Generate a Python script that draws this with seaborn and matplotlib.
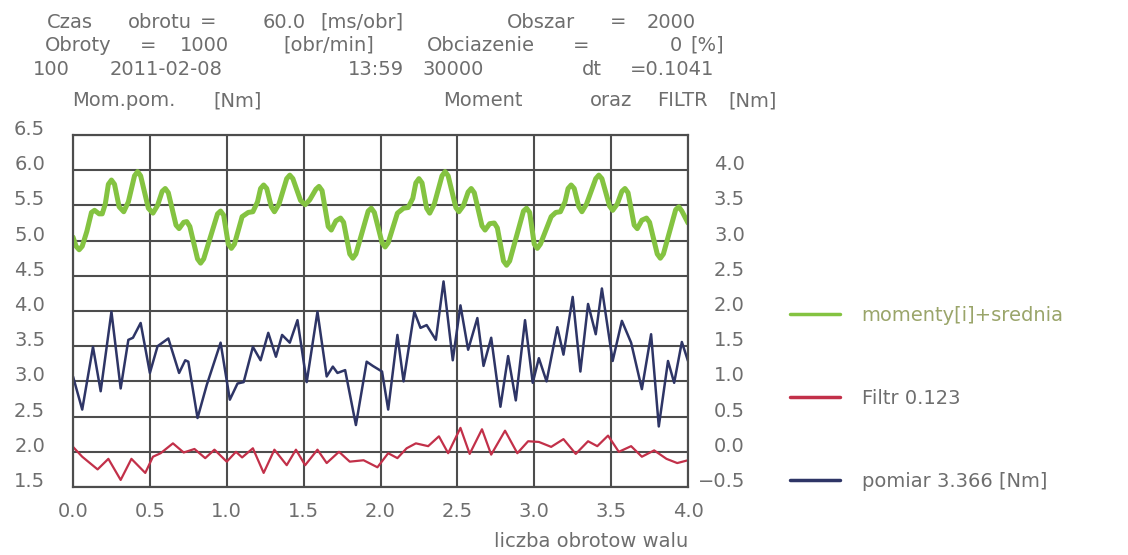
"""
Torque measurement chart: measured torque, filter output and moment+mean
over four shaft revolutions.
"""

import matplotlib
matplotlib.use("Agg")
import matplotlib.pyplot as plt
import seaborn as sns

# ── Data ──────────────────────────────────────────────────────────────────────

# momenty[i]+srednia, right axis [Nm]
green_x = [0.00, 0.02, 0.04, 0.06, 0.09, 0.12, 0.14, 0.17, 0.19, 0.21, 0.23, 0.25, 0.27,
           0.30, 0.33, 0.36, 0.40, 0.42, 0.44, 0.49, 0.52, 0.55, 0.58, 0.60, 0.62, 0.67,
           0.69, 0.72, 0.74, 0.76, 0.81, 0.83, 0.85, 0.94, 0.96, 0.98, 1.01, 1.03, 1.05,
           1.10, 1.14, 1.17, 1.20, 1.22, 1.24, 1.26, 1.29, 1.31, 1.34, 1.39, 1.41, 1.43,
           1.48, 1.51, 1.54, 1.58, 1.60, 1.62, 1.66, 1.68, 1.71, 1.74, 1.76, 1.80, 1.82,
           1.84, 1.92, 1.94, 1.96, 2.01, 2.03, 2.05,
           2.11, 2.15, 2.18, 2.21, 2.23, 2.25, 2.27, 2.30, 2.32, 2.35, 2.40, 2.42, 2.44,
           2.49, 2.51, 2.54, 2.57, 2.59, 2.61, 2.66, 2.68, 2.71, 2.74, 2.76, 2.80, 2.82,
           2.84, 2.93, 2.95, 2.97, 3.00, 3.02, 3.04,
           3.11, 3.14, 3.17, 3.20, 3.22, 3.24, 3.26, 3.29, 3.31, 3.34, 3.40, 3.42, 3.44,
           3.49, 3.51, 3.54, 3.57, 3.59, 3.61, 3.65, 3.67, 3.70, 3.73, 3.75, 3.80, 3.82,
           3.84, 3.92, 3.94, 3.96, 4.00]
green_y = [3.05, 2.92, 2.87, 2.92, 3.13, 3.40, 3.43, 3.38, 3.38, 3.52, 3.80, 3.86, 3.80,
           3.48, 3.41, 3.55, 3.92, 3.98, 3.92, 3.46, 3.39, 3.50, 3.70, 3.74, 3.68, 3.22,
           3.17, 3.26, 3.27, 3.20, 2.74, 2.68, 2.74, 3.38, 3.42, 3.36, 2.95, 2.89, 2.95,
           3.34, 3.40, 3.41, 3.55, 3.74, 3.79, 3.74, 3.48, 3.41, 3.52, 3.88, 3.93, 3.88,
           3.57, 3.51, 3.58, 3.73, 3.77, 3.71, 3.20, 3.15, 3.28, 3.32, 3.26, 2.81, 2.75,
           2.81, 3.42, 3.46, 3.40, 2.97, 2.91, 2.97,
           3.39, 3.46, 3.47, 3.60, 3.82, 3.88, 3.82, 3.46, 3.39, 3.52, 3.92, 3.98, 3.92,
           3.47, 3.41, 3.50, 3.69, 3.74, 3.68, 3.21, 3.15, 3.24, 3.25, 3.18, 2.71, 2.65,
           2.71, 3.42, 3.46, 3.40, 2.95, 2.89, 2.95,
           3.34, 3.40, 3.41, 3.55, 3.74, 3.79, 3.74, 3.48, 3.41, 3.52, 3.88, 3.93, 3.88,
           3.49, 3.43, 3.52, 3.70, 3.74, 3.68, 3.22, 3.17, 3.29, 3.32, 3.26, 2.81, 2.75,
           2.81, 3.44, 3.48, 3.42, 3.25]

# Filtr 0.123, right axis [Nm]
red_x = [0.00, 0.06, 0.16, 0.23, 0.31, 0.38, 0.47, 0.52, 0.57, 0.65, 0.72, 0.79,
         0.86, 0.92, 1.00, 1.06, 1.10, 1.17, 1.24, 1.31, 1.39, 1.45, 1.51, 1.59,
         1.65, 1.73, 1.80, 1.89, 1.98, 2.05, 2.11, 2.17, 2.23, 2.31, 2.38, 2.44,
         2.52, 2.58, 2.66, 2.72, 2.81, 2.89, 2.96, 3.03, 3.11, 3.19, 3.27, 3.35,
         3.41, 3.48, 3.55, 3.63, 3.70, 3.78, 3.86, 3.93, 4.00]
red_y = [0.07, -0.07, -0.25, -0.10, -0.40, -0.10, -0.30, -0.07, -0.02, 0.12, -0.01, 0.04,
         -0.09, 0.03, -0.14, 0.00, -0.08, 0.05, -0.30, 0.03, -0.19, 0.03, -0.19, 0.03,
         -0.16, 0.00, -0.14, -0.12, -0.22, -0.02, -0.09, 0.05, 0.12, 0.08, 0.22, -0.02,
         0.34, -0.03, 0.32, -0.04, 0.30, -0.02, 0.15, 0.14, 0.07, 0.18, -0.03, 0.15,
         0.08, 0.23, 0.00, 0.08, -0.07, 0.02, -0.10, -0.16, -0.12]

# pomiar, left axis [Nm]
blue_x = [0.00, 0.06, 0.13, 0.18, 0.25, 0.31, 0.36, 0.39, 0.44, 0.50, 0.55, 0.62,
          0.69, 0.73, 0.75, 0.81, 0.87, 0.96, 1.02, 1.07, 1.11, 1.17, 1.22, 1.27,
          1.32, 1.36, 1.41, 1.46, 1.52, 1.59, 1.65, 1.69, 1.72, 1.77, 1.84, 1.91,
          1.95, 2.01, 2.05, 2.11, 2.15, 2.22, 2.26, 2.30, 2.36, 2.41, 2.47, 2.52,
          2.57, 2.63, 2.67, 2.72, 2.78, 2.83, 2.88, 2.94, 2.99, 3.03, 3.08, 3.15,
          3.19, 3.25, 3.30, 3.35, 3.40, 3.44, 3.51, 3.57, 3.63, 3.70, 3.76, 3.81,
          3.87, 3.91, 3.96, 4.00]
blue_y = [3.07, 2.60, 3.49, 2.86, 3.99, 2.90, 3.59, 3.62, 3.83, 3.12, 3.50, 3.61,
          3.12, 3.30, 3.28, 2.48, 2.95, 3.55, 2.74, 2.97, 2.99, 3.49, 3.30, 3.69,
          3.35, 3.66, 3.55, 3.87, 2.99, 3.99, 3.07, 3.21, 3.12, 3.16, 2.38, 3.28,
          3.22, 3.14, 2.60, 3.66, 3.00, 3.99, 3.76, 3.80, 3.59, 4.42, 3.30, 4.08,
          3.45, 3.90, 3.22, 3.62, 2.64, 3.36, 2.73, 3.87, 2.98, 3.33, 3.00, 3.77,
          3.38, 4.20, 3.14, 4.10, 3.67, 4.32, 3.29, 3.86, 3.55, 2.89, 3.67, 2.36,
          3.29, 2.98, 3.56, 3.29]

x_ticks = [0.0, 0.5, 1.0, 1.5, 2.0, 2.5, 3.0, 3.5, 4.0]
left_ticks = [1.5, 2.0, 2.5, 3.0, 3.5, 4.0, 4.5, 5.0, 5.5, 6.0, 6.5]
right_ticks = [-0.5, 0.0, 0.5, 1.0, 1.5, 2.0, 2.5, 3.0, 3.5, 4.0]

# header words with their pixel column / row in the reference
header = [
    ("Czas", 47, 22), ("obrotu", 128, 22), ("=", 200, 22), ("60.0", 263, 22),
    ("[ms/obr]", 320, 22), ("Obszar", 507, 22), ("=", 610, 22), ("2000", 647, 22),
    ("Obroty", 45, 45), ("=", 140, 45), ("1000", 180, 45), ("[obr/min]", 283, 45),
    ("Obciazenie", 427, 45), ("=", 573, 45), ("0", 670, 45), ("[%]", 690, 45),
    ("100", 33, 69), ("2011-02-08", 110, 69), ("13:59", 348, 69),
    ("30000", 422, 69), ("dt", 582, 69), ("=0.1041", 630, 69),
    ("Mom.pom.", 72, 101), ("[Nm]", 213, 101),
    ("Moment", 443, 101), ("oraz", 590, 101), ("FILTR", 657, 101), ("[Nm]", 728, 101),
]

assert len(green_x) == len(green_y)
assert len(red_x) == len(red_y)
assert len(blue_x) == len(blue_y)

# ── Style ─────────────────────────────────────────────────────────────────────

GREEN = "#84c341"
RED = "#c23049"
BLUE = "#2e3566"
GRID = "#4d4d4d"
TEXT = "#6e6e6e"
FS = 14
W, H = 1128, 555

sns.set_style("white")
plt.rcParams["font.family"] = ["DejaVu Sans"]

fig = plt.figure(figsize=(W / 100, H / 100), dpi=100)
ax = fig.add_axes([73 / W, 1 - 487 / H, (688 - 73) / W, (487 - 135) / H])
ax2 = ax.twinx()

sns.lineplot(x=blue_x, y=blue_y, ax=ax, color=BLUE, linewidth=1.8,
             label="pomiar 3.366 [Nm]", legend=False)
sns.lineplot(x=green_x, y=green_y, ax=ax2, color=GREEN, linewidth=3.6,
             label="momenty[i]+srednia", legend=False)
sns.lineplot(x=red_x, y=red_y, ax=ax2, color=RED, linewidth=1.6,
             label="Filtr 0.123", legend=False)
for ln in ax2.get_lines() + ax.get_lines():
    ln.set_solid_joinstyle("round")

ax.set_xlim(0, 4.0)
ax.set_ylim(1.5, 6.5)
ax2.set_ylim(-0.5, 4.5)
ax.set_xticks(x_ticks)
ax.set_yticks(left_ticks)
ax2.set_yticks(right_ticks)
ax.set_xticklabels([f"{v:.1f}" for v in x_ticks])
ax.set_yticklabels([f"{v:.1f}" for v in left_ticks])
ax2.set_yticklabels([f"{v:.1f}".replace("-", "\u2212") for v in right_ticks])

ax.grid(True, color=GRID, linewidth=1.5)
ax.set_axisbelow(True)
for a in (ax, ax2):
    for sp in a.spines.values():
        sp.set_color(GRID)
        sp.set_linewidth(1.5)
    a.set_xlabel("")
    a.set_ylabel("")

ax.tick_params(axis="x", length=0, pad=11, labelsize=FS, labelcolor=TEXT)
ax.tick_params(axis="y", length=0, pad=20, labelsize=FS, labelcolor=TEXT)
ax2.tick_params(axis="y", length=0, pad=41, labelsize=FS, labelcolor=TEXT)
for lab in ax.get_yticklabels():
    lab.set_verticalalignment("baseline")
for lab in ax2.get_yticklabels():
    lab.set_verticalalignment("baseline")
    lab.set_horizontalalignment("right")

ax.set_xlabel("liczba obrotow walu", loc="right", fontsize=FS, color=TEXT, labelpad=8)

# header texts
for txt, px, py in header:
    fig.text(px / W, 1 - py / H, txt, fontsize=FS, color=TEXT, ha="left", va="center")

# legend on the right
handles = ax2.get_lines() + ax.get_lines()
leg = fig.legend(handles=handles, labels=[h.get_label() for h in handles],
                 loc="upper left", bbox_to_anchor=(782 / W, 1 - 298 / H),
                 frameon=False, fontsize=FS, labelspacing=3.3,
                 handlelength=2.6, handletextpad=1.1, borderaxespad=0)
for txt, c in zip(leg.get_texts(), ["#9aa56a", TEXT, TEXT]):
    txt.set_color(c)
for h in leg.legend_handles:
    h.set_linewidth(2.5)

fig.savefig("out.png", dpi=100)
